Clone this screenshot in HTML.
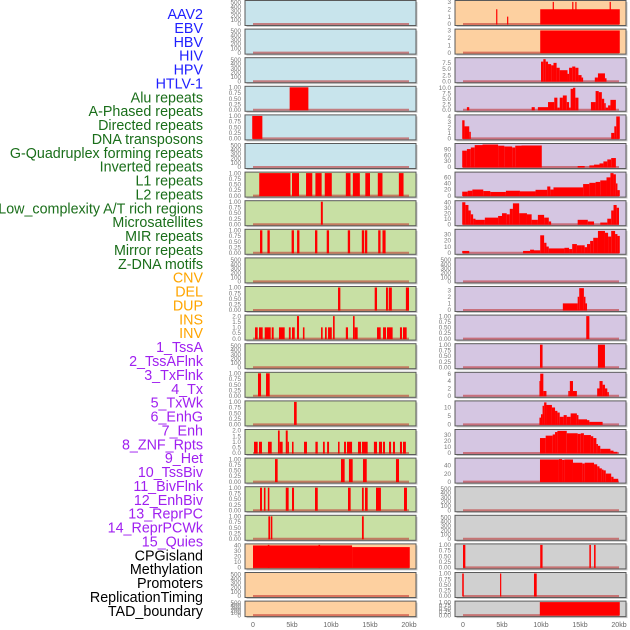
<!DOCTYPE html>
<html><head><meta charset="utf-8"><style>
html,body{margin:0;padding:0;background:#fff;}
svg{display:block;font-family:"Liberation Sans",sans-serif;}
</style></head><body>
<svg id="chart" width="630" height="630" viewBox="0 0 630 630" xmlns="http://www.w3.org/2000/svg"></svg>
<script>
const trackNames = ["AAV2","EBV","HBV","HIV","HPV","HTLV-1","Alu repeats","A-Phased repeats","Directed repeats","DNA transposons","G-Quadruplex forming repeats","Inverted repeats","L1 repeats","L2 repeats","Low_complexity A/T rich regions","Microsatellites","MIR repeats","Mirror repeats","Z-DNA motifs","CNV","DEL","DUP","INS","INV","1_TssA","2_TssAFlnk","3_TxFlnk","4_Tx","5_TxWk","6_EnhG","7_Enh","8_ZNF_Rpts","9_Het","10_TssBiv","11_BivFlnk","12_EnhBiv","13_ReprPC","14_ReprPCWk","15_Quies","CPGisland","Methylation","Promoters","ReplicationTiming","TAD_boundary"];
const labelColors = ["#2020ff","#2020ff","#2020ff","#2020ff","#2020ff","#2020ff","#1a6e1a","#1a6e1a","#1a6e1a","#1a6e1a","#1a6e1a","#1a6e1a","#1a6e1a","#1a6e1a","#1a6e1a","#1a6e1a","#1a6e1a","#1a6e1a","#1a6e1a","#ffa500","#ffa500","#ffa500","#ffa500","#ffa500","#a020f0","#a020f0","#a020f0","#a020f0","#a020f0","#a020f0","#a020f0","#a020f0","#a020f0","#a020f0","#a020f0","#a020f0","#a020f0","#a020f0","#a020f0","#000","#000","#000","#000","#000"];
const E = ["0","100","200","300","400","500"];
const B = ["0.00","0.25","0.50","0.75","1.00"];
const T2 = ["0.0","0.5","1.0","1.5","2.0"];
const trackTicks = [E,E,E,B,B,E,B,B,B,E,B,T2,E,B,B,T2,B,B,B,["0","10","20","30","40"],E,E,
 ["0","1","2","3"],["0","1","2","3"],["0.0","2.5","5.0","7.5"],["0.0","2.5","5.0","7.5","10.0"],["0","1","2","3","4"],["0","30","60","90"],["0","20","40","60"],["0","10","20","30","40"],["0","10","20","30"],E,["0","1","2","3"],B,B,["0","2","4","6"],["0","5","10"],["0","10","20","30"],["0","20","40"],E,E,B,B,B];
const trackMax = [520,520,520,1,1,520,1,1,1,520,1,2,520,1,1,2,1,1,1,41,520,520,
 3.05,3.05,9.2,10.2,4.1,113,74,41,36,520,3.4,1,1,6.1,13.3,37.6,56,520,520,1,1,1];
const trackBars = [
 [],[],[],
 [[4.7,7.1,1]],
 [[-0.1,1.2,1]],
 [],
 [[0.8,4.8,1],[5.0,5.9,1],[6.8,7.6,1],[8.0,8.8,1],[9.2,10.1,1],[11.9,12.5,1],[12.8,13.7,1],[14.4,15.0,1],[16.0,16.6,1],[18.7,19.3,1]],
 [[8.7,8.95,1]],
 [[0.9,1.2,1],[1.85,2.15,1],[4.95,5.25,1],[5.65,5.95,1],[7.95,8.25,1],[9.45,9.75,1],[12.15,12.45,1],[13.95,14.25,1],[14.35,14.65,1],[16.05,16.35,1],[16.6,17.0,1]],
 [],
 [[10.9,11.2,1],[15.6,15.9,1],[17.05,17.3,1],[17.4,17.8,1],[19.6,20.0,1]],
 [[0.26,0.6,1],[0.77,1.24,1],[1.5,2.27,1],[2.4,2.65,1],[3.33,4.06,1],[4.6,4.83,1],[5.0,5.35,1],[5.64,5.9,2],[6.4,6.6,1],[8.72,8.93,1],[9.23,9.45,1],[9.62,10.1,1],[10.26,10.47,2],[11.9,12.18,1],[12.82,13.03,2],[13.03,13.42,1],[15.9,16.37,1],[16.67,17.05,1],[17.18,17.9,1],[18.84,19.1,1],[19.23,19.7,1]],
 [],
 [[0.64,1.03,1],[1.67,2.14,1]],
 [[5.26,5.6,1]],
 [[0.13,0.6,1],[0.77,1.15,1],[1.92,2.4,1],[3.2,3.42,2],[3.42,3.8,1],[4.2,4.45,2],[4.45,4.6,1],[5.0,5.2,1],[6.54,6.92,1],[8.0,8.3,1],[8.97,9.2,1],[9.5,9.75,1],[10.9,11.1,1],[11.67,11.92,1],[12.05,12.7,1],[13.46,13.85,1],[13.97,14.7,1],[15.5,15.9,1],[16.15,16.54,1],[16.67,16.92,1],[17.44,17.7,1],[17.95,18.2,1],[18.84,19.1,1],[19.23,19.6,1]],
 [[2.82,3.16,1],[11.28,11.75,1],[12.3,12.78,1],[14.1,14.58,1],[18.33,18.72,1]],
 [[0.9,1.15,1],[1.4,1.6,1],[1.9,2.1,1],[4.2,4.57,1],[5.0,5.26,1],[7.95,8.3,1],[12.18,12.52,1],[13.97,14.2,1],[14.36,14.7,1],[15.77,16.4,1],[19.36,19.74,1]],
 [[1.97,2.18,1],[2.27,2.48,1],[13.97,14.2,1]],
 [[0,12.7,40],[12.7,20.1,37],[1.9,2.1,41],[8.4,8.6,41]],
 [],[],
 [[4.25,4.4,2],[5.65,5.8,1],[9.9,20.1,2],[11.5,11.65,3],[14.0,14.15,3],[14.4,14.55,3],[18.8,18.95,3]],
 [[9.9,20.1,3]],
 [[10.0,10.3,8],[10.3,10.6,9],[10.6,10.9,8],[10.9,11.3,7],[11.3,11.6,6.5],[11.6,12.0,7.5],[12.0,12.4,5.5],[12.4,13.4,4.5],[13.4,13.6,3],[13.6,14.0,5.5],[14.0,14.4,6],[14.4,14.8,5.5],[14.8,15.2,2.5],[15.2,15.4,1.5],[16.9,17.3,1.5],[17.3,18.2,3.2],[18.2,18.4,1.2]],
 [[0.5,0.8,1.2],[8.8,9.2,1.2],[9.6,10.9,1.2],[10.9,11.7,3.5],[11.7,12.1,5.5],[12.1,12.4,1],[12.4,12.8,5.5],[12.8,13.3,6.5],[13.3,13.6,3.5],[13.6,13.8,1],[13.8,14.1,9.5],[14.1,14.4,10],[14.4,14.8,5.5],[16.4,17.0,3.5],[17.0,17.4,8.5],[17.4,17.8,8],[17.8,18.1,5],[18.1,18.3,3],[18.3,18.6,1],[18.6,18.9,2],[18.9,19.6,4.5]],
 [[-0.1,0.2,3.3],[0.2,0.8,2.2],[0.8,1.0,1.2],[19.0,19.4,1],[19.4,19.65,2.2],[19.65,20.1,4]],
 [[-0.1,0.5,82],[0.5,1.0,90],[1.0,1.5,98],[1.5,2.5,110],[2.5,4.5,113],[4.5,5.3,107],[5.3,6.3,103],[6.3,6.7,98],[6.7,7.5,107],[7.5,10.1,108],[14.7,15.6,5],[16.2,16.8,8],[16.8,17.5,12],[17.5,18.0,18],[18.0,18.5,28],[18.5,19.0,38],[19.0,19.6,45]],
 [[-0.1,0.6,13],[0.6,1.2,16],[1.2,2.6,20],[2.6,3.5,15],[3.5,5.5,12],[5.5,7.3,16],[7.3,9.3,14],[9.3,10.8,19],[10.8,11.2,30],[11.2,11.6,20],[11.6,15.4,27],[15.4,16.2,38],[16.2,17.0,42],[17.0,17.6,45],[17.6,18.4,50],[18.4,18.9,60],[18.9,19.3,74],[19.3,19.6,70],[19.6,19.8,40],[19.8,20.1,18]],
 [[-0.1,0.3,40],[0.3,0.7,35],[0.7,1.0,25],[1.0,1.3,18],[1.3,1.6,10],[1.6,2.8,8],[2.8,4.5,12],[4.5,5.0,15],[5.0,5.6,20],[5.6,6.0,18],[6.0,6.4,28],[6.4,7.2,38],[7.2,8.2,20],[8.2,8.8,18],[8.8,9.6,8],[9.6,10.4,17],[10.4,11.0,12],[11.0,11.3,5],[14.7,16.0,8],[16.0,16.8,5],[17.6,18.5,3],[18.5,19.0,10],[19.0,19.3,25],[19.3,19.7,35],[19.7,20.0,30]],
 [[-0.1,0.8,3],[7.7,8.6,3],[8.6,9.1,5],[9.1,9.9,4],[9.9,10.4,28],[10.4,10.7,16],[10.7,11.0,10],[11.0,13.0,7],[13.0,13.6,8],[13.6,14.0,6],[14.0,14.6,14],[14.6,15.2,12],[15.2,15.6,12],[15.6,15.9,9],[15.9,16.3,14],[16.3,16.7,19],[16.7,17.3,24],[17.3,18.2,35],[18.2,18.6,32],[18.6,19.0,26],[19.0,19.5,35],[19.5,19.8,30],[19.8,20.1,27]],
 [],
 [[12.8,14.7,1],[14.7,14.9,2],[14.9,15.5,3.3],[15.5,15.7,2],[15.7,15.9,1]],
 [[15.8,16.2,1]],
 [[9.87,10.2,1],[17.3,18.2,1]],
 [[9.8,9.9,4],[9.9,10.3,6],[10.3,10.7,1.3],[13.5,13.7,1.3],[13.7,14.1,4],[14.1,14.6,1.3],[17.2,17.5,2],[17.5,17.9,4],[17.9,18.2,3],[18.2,18.5,2],[18.5,18.7,1]],
 [[9.8,10.0,4],[10.0,10.2,6],[10.2,10.4,11],[10.4,10.7,13],[10.7,11.4,11.5],[11.4,11.8,10],[11.8,12.1,8],[12.1,12.4,7],[12.4,12.9,4.5],[12.9,13.3,5.5],[13.3,13.8,4.5],[13.8,14.6,6.5],[14.6,14.8,5.5],[14.8,15.9,3],[15.9,16.2,2.5],[16.2,17.9,1.5]],
 [[9.87,10.6,25],[10.6,11.5,29],[11.5,11.8,31],[11.8,12.1,35],[12.1,13.3,37],[13.3,14.7,33],[14.7,15.1,32],[15.1,15.5,33],[15.5,16.4,30],[16.4,16.7,28],[16.7,17.1,25],[17.1,17.3,15],[17.3,17.6,12],[17.6,18.9,7],[18.9,19.3,4],[19.3,19.8,2]],
 [[9.87,12.3,55],[12.3,12.7,56],[12.7,13.0,54],[13.0,14.1,55],[14.1,15.3,47],[15.3,15.6,45],[15.6,16.8,47],[16.8,17.2,43],[17.2,17.5,38],[17.5,17.8,33],[17.8,18.0,30],[18.0,18.3,28],[18.3,19.0,20],[19.0,19.3,12],[19.3,19.9,7]],
 [],[],
 [[0.0,0.3,1],[9.9,10.2,1],[16.2,16.4,1],[16.8,17.0,1]],
 [[-0.1,0.1,1],[4.75,4.9,1],[9.1,9.45,1]],
 [[9.85,20.1,1]]
];
const xTickLabels = ["0","5kb","10kb","15kb","20kb"];
const xTickValues = [0,5,10,15,20];

const svg = document.getElementById('chart');
const NS = "http://www.w3.org/2000/svg";
function mk(tag, attrs, parent){const el=document.createElementNS(NS,tag);for(const k in attrs)el.setAttribute(k,attrs[k]);(parent||svg).appendChild(el);return el;}
const colX0 = [245,455], zeroX = [253,463], PXKB = 7.8, PW = 171;
const rowColors = [];
for(let i=0;i<22;i++){rowColors.push(i<6?"#c8e4ec":(i<19?"#c8e0a4":"#fdd0a0"));}
for(let i=0;i<22;i++){rowColors.push(i<2?"#fdd0a0":(i<17?"#d5c6e2":"#d0d0d0"));}
function xScale(col,kb){return zeroX[col]+kb*PXKB;}

trackNames.forEach((n,i)=>{
  const t=mk('text',{x:203,y:14+i*13.88+5,'text-anchor':'end','font-size':'14.3',fill:labelColors[i]});
  
  
  t.textContent=n;
});

for(let ti=0; ti<44; ti++){
  const col = ti<22?0:1, row = ti%22;
  const top = 0.5+row*28.6, h = row===21?15.5:25;
  const g = mk('g',{});
  
  
  mk('rect',{x:colX0[col]+1.5,y:top+1.5,width:PW,height:h,fill:'#c8c8c8'},g);
  mk('rect',{x:colX0[col],y:top,width:PW,height:h,fill:rowColors[ti],stroke:'#5a5a5a','stroke-width':1},g);
  const ymax = trackMax[ti];
  const yS = v => top+h-1.5 - v/ymax*(h-2.5);
  const bl = mk('line',{x1:xScale(col,0),x2:xScale(col,20),y1:yS(0),y2:yS(0),stroke:'rgba(190,40,40,0.55)','stroke-width':2},g);
  
  
  trackBars[ti].forEach(b=>{
    const x1=xScale(col,b[0]), x2=xScale(col,b[1]);
    const r = mk('rect',{x:x1,y:yS(b[2]),width:Math.max(1.2,x2-x1),height:yS(0)-yS(b[2])+0.5,fill:'#ff0000'},g);
    
    
  });
  trackTicks[ti].forEach(lbl=>{
    const v=parseFloat(lbl);
    const t=mk('text',{x:colX0[col]-4,y:yS(v)+2.2,'text-anchor':'end','font-size':'6.3',fill:'#777'},g);
    
    
    t.textContent=lbl;
  });
}
for(let col=0;col<2;col++){
  xTickValues.forEach((v,i)=>{
    const t=mk('text',{x:xScale(col,v),y:627,'text-anchor':'middle','font-size':'7',fill:'#666'});
    
    
    t.textContent=xTickLabels[i];
  });
}
</script>
</body></html>
